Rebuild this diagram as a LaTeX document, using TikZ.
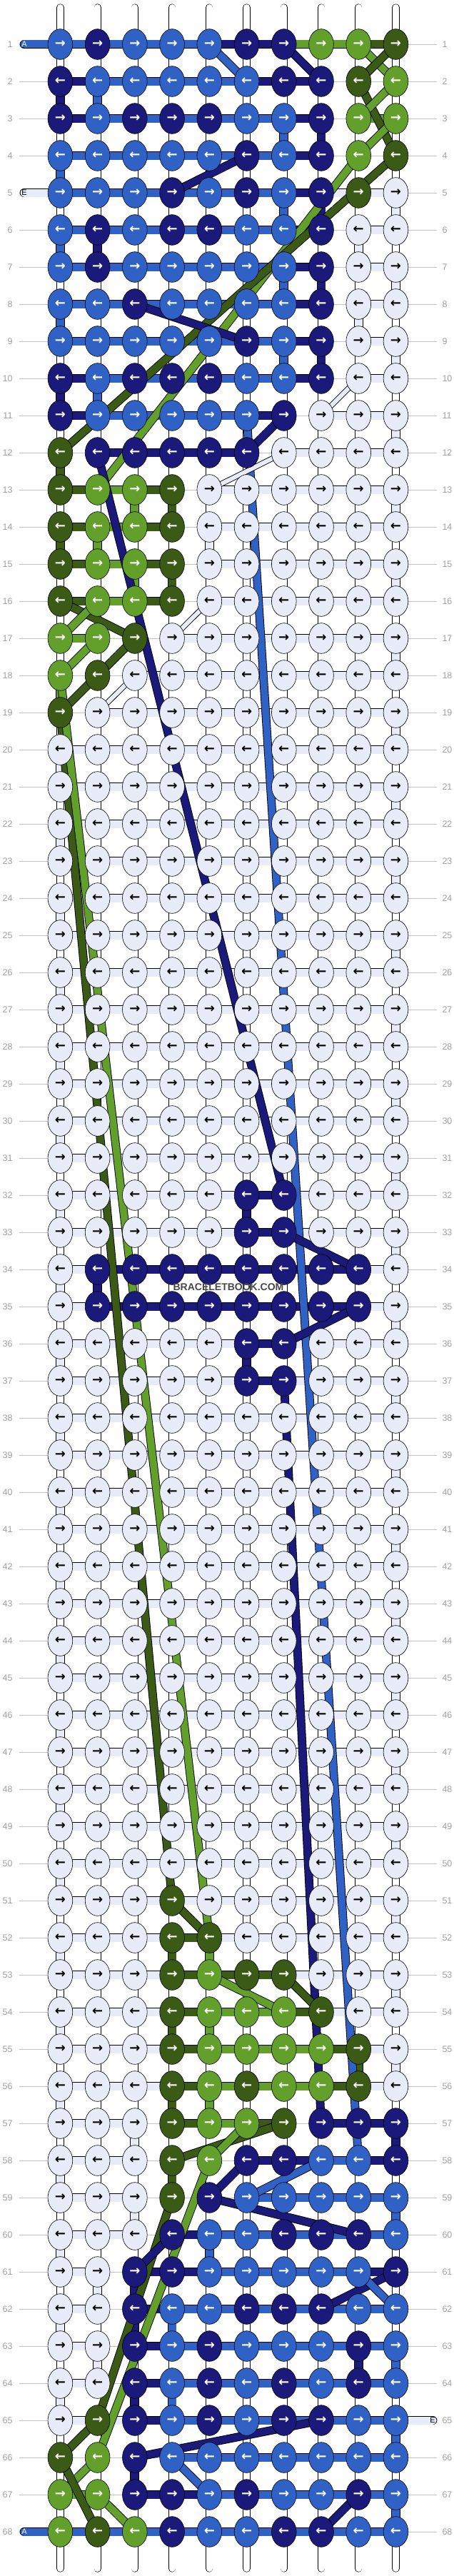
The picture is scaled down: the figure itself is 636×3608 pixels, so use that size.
\documentclass[tikz,border=0pt]{standalone}
\usepackage{fontspec}
\setmainfont{Liberation Sans}
\newfontfamily\arrowfont{DejaVu Sans}
\usetikzlibrary{shapes.geometric}

\definecolor{kB}{HTML}{3062C6}
\definecolor{kN}{HTML}{1B1A7A}
\definecolor{kG}{HTML}{62A02B}
\definecolor{kD}{HTML}{3A5A16}
\definecolor{kW}{HTML}{E8EBF8}
\colorlet{tB}{white}
\colorlet{tN}{white}
\colorlet{tG}{white}
\colorlet{tD}{white}
\colorlet{tW}{black}
\definecolor{numgray}{HTML}{A0A0A0}
\definecolor{linegray}{HTML}{C4C4C4}

\pgfdeclarelayer{grid}
\pgfdeclarelayer{strands}
\pgfsetlayers{grid,strands,main}

\tikzset{
  knot/.style={ellipse, draw=black, line width=0.6pt, fill=k#1, text=t#1,
    minimum width=34.7pt, minimum height=42.7pt, inner sep=0pt,
    font=\arrowfont\bfseries\fontsize{18}{18}\selectfont},
  strand/.style={draw=black, line width=0.9pt, double=k#1, double distance=10pt},
  stub/.style={draw=black, line width=0.6pt, double=white, double distance=9pt},
  bB/.style={strand=B, double distance=11pt},
  bN/.style={strand=N, double distance=11pt},
  bG/.style={strand=G, double distance=11pt},
  bD/.style={strand=D, double distance=11pt},
  bW/.style={strand=W, double distance=11pt},
  bo/.style={},
  rowline/.style={draw=linegray, line width=0.8pt},
  rownum/.style={text=numgray, font=\fontsize{12.5}{12.5}\selectfont},
  endtag/.style={font=\fontsize{11}{11}\selectfont, inner sep=0pt},
}

\begin{document}
\begin{tikzpicture}[x=1pt,y=-1pt]
\useasboundingbox (0,0) rectangle (636,3608);

% knots with colour
\foreach \r/\cs in {
  1/{B,N,B,B,B,N,N,G,G,D},
  2/{N,B,B,B,B,B,N,N,D,G},
  3/{N,B,N,N,N,B,B,N,G,G},
  4/{B,B,B,B,B,N,B,N,G,D},
  5/{B,B,B,N,B,N,B,N,D,W},
  6/{B,N,B,N,N,B,B,N,W,W},
  7/{B,N,B,B,B,B,B,N,W,W},
  8/{B,B,N,B,B,B,B,N,W,W},
  9/{B,B,B,B,B,N,B,N,W,W},
  10/{N,B,N,N,N,B,B,N,W,W},
  11/{N,B,B,B,B,B,N,W,W,W},
  12/{D,N,N,N,N,N,W,W,W,W},
  13/{D,G,G,D,W,W,W,W,W,W},
  14/{D,G,G,D,W,W,W,W,W,W},
  15/{D,G,G,D,W,W,W,W,W,W},
  16/{D,G,G,D,W,W,W,W,W,W},
  17/{G,G,D,W,W,W,W,W,W,W},
  18/{G,D,W,W,W,W,W,W,W,W},
  19/{D,W,W,W,W,W,W,W,W,W},
  32/{W,W,W,W,W,N,N,W,W,W},
  33/{W,W,W,W,W,N,N,W,W,W},
  34/{W,N,N,N,N,N,N,N,N,W},
  35/{W,N,N,N,N,N,N,N,N,W},
  36/{W,W,W,W,W,N,N,W,W,W},
  37/{W,W,W,W,W,N,N,W,W,W},
  51/{W,W,W,D,W,W,W,W,W,W},
  52/{W,W,W,D,D,W,W,W,W,W},
  53/{W,W,W,D,G,D,D,W,W,W},
  54/{W,W,W,D,G,G,G,D,W,W},
  55/{W,W,W,D,G,G,G,G,D,W},
  56/{W,W,W,D,G,D,G,G,D,W},
  57/{W,W,W,D,G,G,D,N,N,N},
  58/{W,W,W,D,G,N,N,B,B,N},
  59/{W,W,W,D,N,B,B,B,B,B},
  60/{W,W,W,N,B,B,N,N,N,B},
  61/{W,W,N,N,B,B,B,B,B,N},
  62/{W,W,N,B,B,N,N,N,B,B},
  63/{W,W,N,B,N,B,B,B,N,B},
  64/{W,W,N,B,N,B,N,B,N,B},
  65/{W,D,N,B,N,B,N,N,B,B},
  66/{D,G,N,B,B,B,B,B,B,B},
  67/{G,G,N,N,B,N,B,B,N,B},
  68/{G,D,G,N,B,B,N,N,B,B}} {
  \foreach \k [count=\c] in \cs
    \node[knot=\k] (k-\r-\c) at ({84.4+52.23*(\c-1)},{62+52*(\r-1)})
      {\ifodd\r\relax →\else ←\fi};
}
% plain rows
\foreach \r in {20,...,31,38,39,...,50}
  \foreach \c in {1,...,10}
    \node[knot=W] (k-\r-\c) at ({84.4+52.23*(\c-1)},{62+52*(\r-1)})
      {\ifodd\r\relax →\else ←\fi};

% row numbers
\foreach \r in {1,...,68} {
  \coordinate (ll-\r) at (27,{62+52*(\r-1)});
  \coordinate (lr-\r) at (612,{62+52*(\r-1)});
  \node[rownum, anchor=east] (nl-\r) at (21,{62+52*(\r-1)}) {\r};
  \node[rownum, anchor=west] (nr-\r) at (616,{62+52*(\r-1)}) {\r};
}
\foreach \c in {1,...,10} {
  \coordinate (top-\c) at ({84.4+52.23*(\c-1)},10.5);
  \coordinate (bot-\c) at ({84.4+52.23*(\c-1)},3597.5);
}

\begin{pgfonlayer}{grid}
  \foreach \r in {1,...,68}
    \draw[rowline] (ll-\r) -- (lr-\r);
  \foreach \c in {1,...,10} {
    \draw[stub, line cap=round] (top-\c) -- (k-1-\c.center);
    \draw[stub, line cap=round] (k-68-\c.center) -- (bot-\c);
  }
  \foreach \r in {1,...,67} {
    \pgfmathtruncatemacro\rn{\r+1}
    \foreach \c in {1,...,10}
      \draw[stub] (k-\r-\c.center) -- (k-\rn-\c.center);
  }
\end{pgfonlayer}

\begin{pgfonlayer}{strands}
  % bars along the rows
  \foreach \r/\bs in {
    1/{B,B,B,B,N,N,G,G,D},
    2/{N,B,B,B,B,N,N,o,o},
    3/{N,B,B,B,B,B,N,o,G},
    4/{B,B,B,B,B,B,N,o,o},
    5/{B,B,B,B,B,B,N,W,W},
    6/{B,B,B,B,B,B,N,o,W},
    7/{B,B,B,B,B,B,N,o,W},
    8/{B,B,B,B,B,B,N,o,W},
    9/{B,B,B,B,B,B,N,o,W},
    10/{N,B,B,B,B,B,N,o,W},
    11/{N,B,B,B,B,N,o,W,W},
    12/{o,N,N,N,N,o,W,W,W},
    13/{D,G,D,o,W,W,W,W,W},
    14/{D,G,D,o,W,W,W,W,W},
    15/{D,G,D,o,W,W,W,W,W},
    16/{D,G,D,o,W,W,W,W,W},
    17/{G,o,o,W,W,W,W,W,W},
    18/{o,o,W,W,W,W,W,W,W},
    19/{o,W,W,W,W,W,W,W,W},
    32/{W,W,W,W,W,N,W,W,W},
    33/{W,W,W,W,W,N,W,W,W},
    34/{W,N,N,N,N,N,N,N,W},
    35/{W,N,N,N,N,N,N,N,W},
    36/{W,W,W,W,W,N,W,W,W},
    37/{W,W,W,W,W,N,W,W,W},
    52/{W,W,W,D,W,W,W,W,W},
    53/{W,W,W,D,D,D,W,W,W},
    54/{W,W,W,D,G,G,D,W,W},
    55/{W,W,W,D,G,G,G,D,W},
    56/{W,W,W,D,G,G,G,D,W},
    57/{W,W,o,D,G,D,o,N,N},
    58/{W,W,o,o,o,N,N,B,N},
    59/{W,W,o,o,o,B,B,B,B},
    60/{W,W,o,N,B,B,B,B,B},
    61/{W,o,N,N,B,B,B,B,N},
    62/{W,o,N,B,B,B,B,B,B},
    63/{W,o,N,B,B,B,B,B,B},
    64/{W,o,N,B,B,B,B,B,B},
    65/{W,W,N,B,B,B,B,B,B},
    66/{o,o,o,B,B,B,B,B,B},
    67/{G,o,N,N,B,B,B,B,B},
    68/{B,B,B,B,B,B,B,B,B}} {
    \foreach \k [count=\c] in \bs {
      \pgfmathtruncatemacro\cn{\c+1}
      \path[b\k] (k-\r-\c.center) -- (k-\r-\cn.center);
    }
  }
  \foreach \r in {20,...,31,38,39,...,51}
    \foreach \c in {1,...,9} {
      \pgfmathtruncatemacro\cn{\c+1}
      \path[bW] (k-\r-\c.center) -- (k-\r-\cn.center);
    }

  % loose ends with letters
  \coordinate (in-1) at (34,62);
  \coordinate (in-5) at (34,270);
  \coordinate (out-65) at (606,3390);
  \coordinate (in-68) at (34,3546);
  \draw[bB, line cap=round] (in-1) -- (k-1-1.center);
  \draw[bW, line cap=round] (in-5) -- (k-5-1.center);
  \draw[bW, line cap=round] (k-65-10.center) -- (out-65);
  \draw[bB, line cap=round] (in-68) -- (k-68-1.center);

  % strands going down
  \foreach \k/\r/\c in {N/2/1, B/2/2, B/3/7, N/3/8, B/4/1, B/5/7, N/5/8,
      B/6/1, N/6/2, B/7/7, N/7/8, B/8/1, B/9/7, N/9/8, N/10/1, B/10/2,
      D/12/1, G/13/3, D/13/4, D/14/1, G/14/2, G/15/3, D/15/4, G/18/1,
      N/32/6, N/34/2, N/36/6, D/52/4, G/52/5, D/54/4, G/54/5, D/55/9,
      D/56/4, G/56/5, N/57/10, D/58/4, B/59/10, B/60/5, N/61/3, N/62/3,
      B/62/4, N/63/9, B/63/10, N/64/3, B/64/4, B/65/10, N/66/3, B/67/10,
      W/6/9, W/8/9, W/14/5, W/57/3, W/59/3, W/61/2, W/63/2} {
    \pgfmathtruncatemacro\rn{\r+1}
    \draw[strand=\k, double distance=11pt] (k-\r-\c.center) -- (k-\rn-\c.center);
  }
  \foreach \r in {5,7,...,55} {
    \pgfmathtruncatemacro\rn{\r+1}
    \draw[bW] (k-\r-10.center) -- (k-\rn-10.center);
  }
  \foreach \r in {20,22,...,64} {
    \pgfmathtruncatemacro\rn{\r+1}
    \draw[bW] (k-\r-1.center) -- (k-\rn-1.center);
  }

  % strands changing place
  \foreach \k/\ra/\ca/\rb/\cb in {B/1/5/2/6, N/1/7/2/8, G/1/9/2/10,
      D/1/10/2/9, D/2/9/4/10, G/2/10/3/9, G/3/10/4/9, G/4/9/13/2,
      D/4/10/12/1, N/4/6/5/4, N/8/3/9/6, N/11/7/12/6, B/11/6/58/9,
      N/12/2/32/7, D/16/1/17/3, G/16/2/17/1, G/17/2/18/1, D/17/3/18/2,
      D/18/2/19/1, D/19/1/51/4, G/18/1/52/5, N/33/7/34/9, N/35/9/36/7,
      N/37/7/57/8, D/51/4/52/5, G/53/5/54/7, D/53/7/54/8, D/57/7/58/4,
      G/57/6/58/5, G/58/5/66/2, N/58/6/59/5, B/58/8/59/6, N/59/5/60/9,
      D/59/4/65/2, N/60/4/61/3, N/61/10/62/8, B/61/9/62/10, D/65/2/66/1,
      G/66/2/67/1, D/66/1/68/2, G/67/2/68/3, N/66/3/65/8, B/66/4/67/5,
      N/67/9/68/8}
    \draw[strand=\k] (k-\ra-\ca.center) -- (k-\rb-\cb.center);
  \foreach \ra/\ca/\rb/\cb in {10/9/11/8, 12/7/13/5, 16/5/17/4, 18/3/19/2}
    \draw[strand=W, double distance=6pt] (k-\ra-\ca.center) -- (k-\rb-\cb.center);
\end{pgfonlayer}

\node[endtag, text=white] (tag-1) at (in-1) {A};
\node[endtag, text=black] (tag-5) at (in-5) {E};
\node[endtag, text=black] (tag-65) at (out-65) {E};
\node[endtag, text=white] (tag-68) at (in-68) {A};

\node[font=\bfseries\fontsize{14}{14}\selectfont, text=black!72] (mark) at (320,1803) {BRACELETBOOK.COM};
\end{tikzpicture}
\end{document}
